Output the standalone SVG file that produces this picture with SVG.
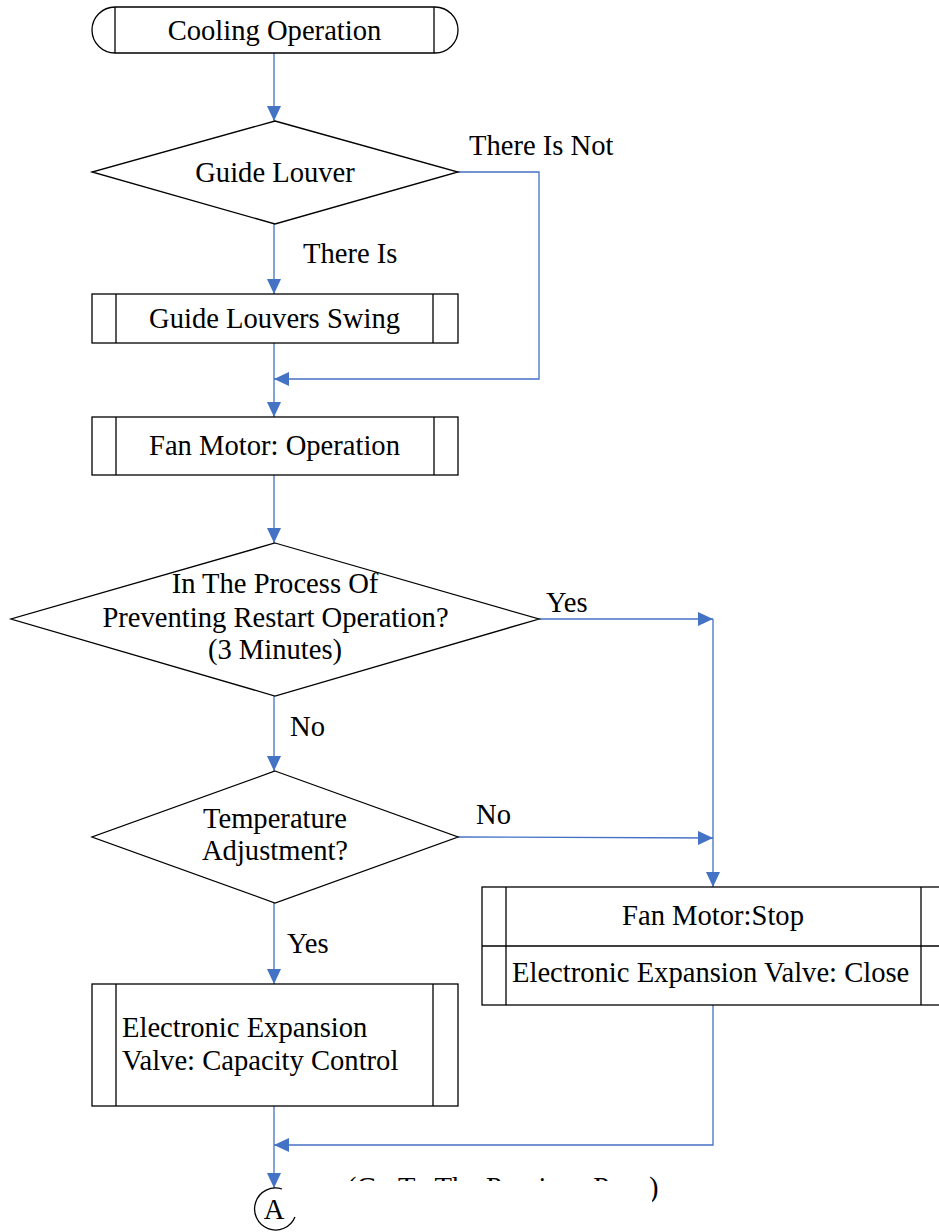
<svg xmlns="http://www.w3.org/2000/svg" width="939" height="1232" viewBox="0 0 939 1232">
<style>
.shape{fill:#fff;stroke:#000;stroke-width:1.3}
.ln{fill:none;stroke:#000;stroke-width:1.3}
.t{font-family:"Liberation Serif","Times New Roman",serif;font-size:28.6px;fill:#000}
.c{text-anchor:middle}
.conn{fill:none;stroke:#4472C4;stroke-width:1.3}
</style>
<defs>
<marker id="arr" viewBox="0 0 10 10" refX="10" refY="5" markerUnits="userSpaceOnUse" markerWidth="15" markerHeight="14" orient="auto" preserveAspectRatio="none">
<path d="M0,0 L10,5 L0,10 z" fill="#4472C4"/>
</marker>
<clipPath id="clipNote">
<rect x="0" y="1168" width="939" height="13"/>
<rect x="652" y="1168" width="25" height="40"/>
</clipPath>
</defs>

<g id="connectors">
<path class="conn" d="M274,53 V121" marker-end="url(#arr)"/>
<path class="conn" d="M274,224 V294" marker-end="url(#arr)"/>
<path class="conn" d="M458,172 H539 V379 H274" marker-end="url(#arr)"/>
<path class="conn" d="M274,343 V417" marker-end="url(#arr)"/>
<path class="conn" d="M274,475 V543" marker-end="url(#arr)"/>
<path class="conn" d="M539,619 H713" marker-end="url(#arr)"/>
<path class="conn" d="M713,619 V887" marker-end="url(#arr)"/>
<path class="conn" d="M274,696 V771" marker-end="url(#arr)"/>
<path class="conn" d="M458,837 L713,838" marker-end="url(#arr)"/>
<path class="conn" d="M274,903 V984" marker-end="url(#arr)"/>
<path class="conn" d="M713,1005 V1145 H274" marker-end="url(#arr)"/>
<path class="conn" d="M274,1106 V1188" marker-end="url(#arr)"/>
<text class="t" x="469" y="155">There Is Not</text>
<text class="t" x="303" y="263">There Is</text>
<text class="t" x="546" y="612">Yes</text>
<text class="t" x="290" y="736">No</text>
<text class="t" x="476" y="824">No</text>
<text class="t" x="287" y="953">Yes</text>
</g>

<g id="start">
<rect class="shape" x="92" y="7" width="366" height="46" rx="23" ry="23"/>
<line class="ln" x1="115" y1="7" x2="115" y2="53"/>
<line class="ln" x1="434" y1="7" x2="434" y2="53"/>
<text class="t c" x="274.5" y="40">Cooling Operation</text>
</g>

<g id="guide-louver">
<polygon class="shape" points="275,121 458,172 275,224 92,172"/>
<text class="t c" x="275" y="182">Guide Louver</text>
</g>

<g id="louvers-swing">
<rect class="shape" x="92" y="294" width="366" height="49"/>
<line class="ln" x1="116" y1="294" x2="116" y2="343"/>
<line class="ln" x1="433" y1="294" x2="433" y2="343"/>
<text class="t c" x="274.5" y="328">Guide Louvers Swing</text>
</g>

<g id="fan-operation">
<rect class="shape" x="92" y="417" width="366" height="58"/>
<line class="ln" x1="116" y1="417" x2="116" y2="475"/>
<line class="ln" x1="434" y1="417" x2="434" y2="475"/>
<text class="t c" x="274.5" y="455">Fan Motor: Operation</text>
</g>

<g id="restart-check">
<polygon class="shape" points="275,543 539,619 275,696 11,619"/>
<text class="t c" x="275" y="593">In The Process Of</text>
<text class="t c" x="275.5" y="627">Preventing Restart Operation?</text>
<text class="t c" x="275" y="659">(3 Minutes)</text>
</g>

<g id="temperature-check">
<polygon class="shape" points="275,771 458,837 275,903 92,837"/>
<text class="t c" x="275" y="828">Temperature</text>
<text class="t c" x="275" y="860">Adjustment?</text>
</g>

<g id="capacity-control">
<rect class="shape" x="92" y="984" width="366" height="122"/>
<line class="ln" x1="116" y1="984" x2="116" y2="1106"/>
<line class="ln" x1="433" y1="984" x2="433" y2="1106"/>
<text class="t" x="122" y="1037">Electronic Expansion</text>
<text class="t" x="122" y="1070">Valve: Capacity Control</text>
</g>

<g id="stop-box">
<rect class="shape" x="482" y="887" width="462" height="118"/>
<line class="ln" x1="482" y1="946" x2="944" y2="946"/>
<line class="ln" x1="506" y1="887" x2="506" y2="1005"/>
<line class="ln" x1="921" y1="887" x2="921" y2="1005"/>
<text class="t c" x="713" y="925">Fan Motor:Stop</text>
<text class="t" x="512" y="982">Electronic Expansion Valve: Close</text>
</g>

<g id="connector-a">
<path class="ln" d="M282,1189 A21,21 0 1 0 295,1217"/>
<text class="t c" x="274" y="1219">A</text>
</g>

<g id="note">
<text class="t" x="347" y="1197" clip-path="url(#clipNote)">(Go To The Previous Page)</text>
</g>
</svg>
